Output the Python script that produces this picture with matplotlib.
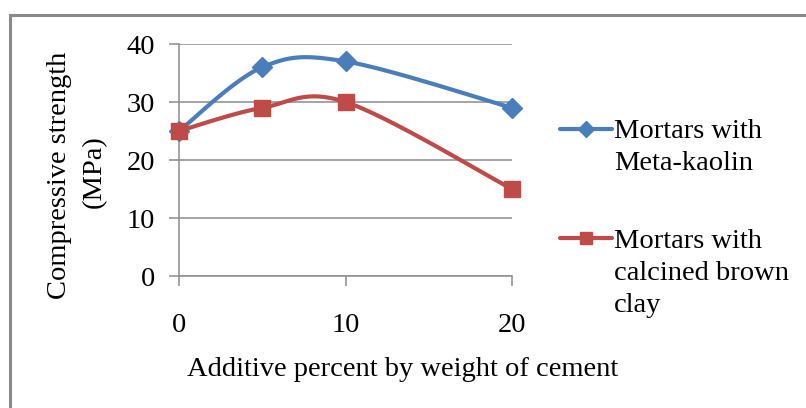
import numpy as np
import matplotlib
matplotlib.use("Agg")
import matplotlib.pyplot as plt
from matplotlib.lines import Line2D
from matplotlib.patches import Rectangle

plt.rcParams['font.family'] = ['Liberation Serif', 'DejaVu Serif']

# Compressive strength (MPa) against additive content (% by weight of cement)
additive_pct = [0, 5, 10, 20]
metakaolin = [25, 36, 37, 29]
brown_clay = [25, 29, 30, 15]
x_ticks = [0, 10, 20]
y_ticks = [0, 10, 20, 30, 40]

BLUE = '#4a7ebb'
RED = '#be4b48'
GRID = '#8c8c8c'
FS = 20.5


def smooth(ax, xs, ys, n=40):
    """Excel-style smoothed line: cardinal bezier built in display space."""
    pts = ax.transData.transform(np.column_stack([xs, ys]))
    p = np.vstack([pts[0], pts, pts[-1]])
    out = []
    t = np.linspace(0, 1, n)[:, None]
    for i in range(1, len(p) - 2):
        p0, p1, p2, p3 = p[i - 1], p[i], p[i + 1], p[i + 2]
        c1 = p1 + (p2 - p0) / 6.0
        c2 = p2 - (p3 - p1) / 6.0
        seg = ((1 - t) ** 3) * p1 + 3 * ((1 - t) ** 2) * t * c1 \
            + 3 * (1 - t) * t ** 2 * c2 + t ** 3 * p2
        out.append(seg)
    out = np.vstack(out)
    return ax.transData.inverted().transform(out).T


fig = plt.figure(figsize=(8.06, 4.08), dpi=100)
ax = fig.add_axes([179 / 806, 1 - 276 / 408, 333 / 806, 232 / 408])

ax.set_xlim(0, 20)
ax.set_ylim(0, 40)
ax.set_xticks(x_ticks)
ax.set_yticks(y_ticks)
ax.tick_params(axis='both', labelsize=FS, color=GRID, length=7, width=1.1)
ax.tick_params(axis='y', pad=10)
ax.tick_params(axis='x', pad=20)
ax.grid(axis='y', color=GRID, lw=1.1)
ax.set_axisbelow(True)
for side in ['top', 'right']:
    ax.spines[side].set_visible(False)
for side in ['left', 'bottom']:
    ax.spines[side].set_color(GRID)
    ax.spines[side].set_linewidth(1.1)

for ys, color, marker, ms in [(metakaolin, BLUE, 'D', 10.5),
                              (brown_clay, RED, 's', 11)]:
    sx, sy = smooth(ax, additive_pct, ys)
    ax.plot(sx, sy, color=color, lw=3, solid_capstyle='round', clip_on=False)
    ax.plot(additive_pct, ys, ls='none', marker=marker, ms=ms, color=color,
            clip_on=False, zorder=4)

# axis titles
fig.text(60 / 806, 1 - 175 / 408, 'Compressive strength', rotation=90,
         ha='center', va='center', fontsize=FS)
fig.text(94 / 806, 1 - 172 / 408, '(MPa)', rotation=90,
         ha='center', va='center', fontsize=FS)
fig.text(403 / 806, 1 - 370 / 408, 'Additive percent by weight of cement',
         ha='center', va='center', fontsize=FS)

# legend on the right
entries = [(BLUE, 'D', 8.5, 129, ['Mortars with', 'Meta-kaolin']),
           (RED, 's', 8.5, 238, ['Mortars with', 'calcined brown', 'clay'])]
for color, marker, ms, yy, lines in entries:
    fy = 1 - yy / 408
    fig.add_artist(Line2D([560 / 806, 612 / 806], [fy, fy], color=color,
                          lw=3, solid_capstyle='round',
                          transform=fig.transFigure))
    fig.add_artist(Line2D([586 / 806], [fy], marker=marker, ms=ms,
                          color=color, transform=fig.transFigure))
    for k, txt in enumerate(lines):
        fig.text(614 / 806, 1 - (yy + 3 + 32 * k) / 408, txt,
                 ha='left', va='center', fontsize=FS)

# outer chart frame
fig.add_artist(Rectangle((10 / 806, -0.05), 1.0, 1 - 15 / 408 + 0.05,
                         transform=fig.transFigure, fill=False,
                         edgecolor='#8a8a8a', lw=2.2))

fig.savefig('out.png', dpi=100)
